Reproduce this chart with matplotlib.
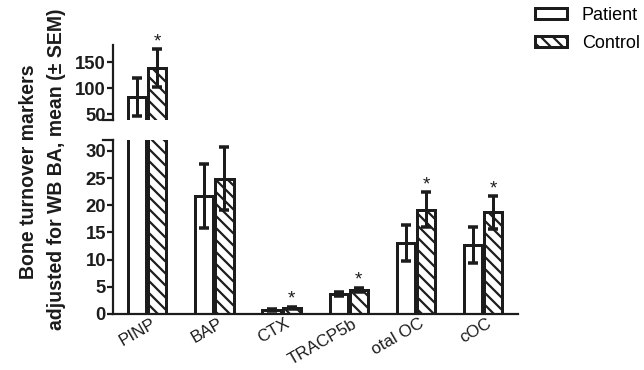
import matplotlib.pyplot as plt
from matplotlib.patches import Patch

# --- data ---
markers = ["PINP", "BAP", "CTX", "TRACP5b", "otal OC", "cOC"]
patient_mean = [83, 21.7, 0.7, 3.7, 13.1, 12.7]
patient_sem = [37, 5.9, 0.2, 0.3, 3.3, 3.3]
control_mean = [138, 24.9, 1.1, 4.4, 19.2, 18.7]
control_sem = [37, 5.8, 0.2, 0.4, 3.2, 3.0]
significant = [True, False, True, True, True, True]
upper_ticks = [50, 100, 150]
lower_ticks = [0, 5, 10, 15, 20, 25, 30]

plt.rcParams['font.family'] = ['Liberation Sans', 'DejaVu Sans']
plt.rcParams['hatch.linewidth'] = 2.2
INK = '#1c1c1c'

W, H = 644, 370
fig = plt.figure(figsize=(W / 72, H / 72), dpi=72)

# axes boxes in pixels (left, top, right, bottom)
def px_axes(l, t, r, b):
    return fig.add_axes([l / W, 1 - b / H, (r - l) / W, (b - t) / H])

ax_top = px_axes(113, 45, 518, 120)
ax_bot = px_axes(113, 140, 518, 314)

x = list(range(len(markers)))
bw = 0.27
off = 0.15
xp = [i - off for i in x]
xc = [i + off for i in x]

for ax in (ax_top, ax_bot):
    ax.bar(xp, patient_mean, width=bw, facecolor='white', edgecolor=INK, linewidth=3)
    ax.bar(xc, control_mean, width=bw, facecolor='white', edgecolor=INK, linewidth=3,
           hatch='\\\\')
    ax.errorbar(xp, patient_mean, yerr=patient_sem, fmt='none', ecolor=INK,
                elinewidth=3, capsize=5, capthick=3.5)
    ax.errorbar(xc, control_mean, yerr=control_sem, fmt='none', ecolor=INK,
                elinewidth=3, capsize=5, capthick=3.5)
    ax.set_xlim(-0.51, 5.52)
    for s in ('top', 'right'):
        ax.spines[s].set_visible(False)
    ax.spines['left'].set_linewidth(2.2)
    ax.spines['left'].set_color(INK)
    ax.tick_params(axis='y', length=6, width=2.2, color=INK, labelsize=18.5, pad=1)

ax_top.set_ylim(38.5, 182.7)
ax_top.set_yticks(upper_ticks)
ax_top.set_yticklabels([str(t) for t in upper_ticks], fontweight='bold', color=INK)
ax_top.spines['bottom'].set_visible(False)
ax_top.set_xticks([])

ax_bot.set_ylim(0, 32)
ax_bot.set_yticks(lower_ticks)
ax_bot.set_yticklabels([str(t) for t in lower_ticks], fontweight='bold', color=INK)
ax_bot.spines['bottom'].set_linewidth(2.2)
ax_bot.spines['bottom'].set_color(INK)
ax_bot.set_xticks([i + 0.05 for i in x])
ax_bot.set_xticklabels(markers, rotation=30, ha='right', va='top', rotation_mode='anchor',
                       fontsize=17, color=INK)
ax_bot.tick_params(axis='x', length=0, pad=2)

# break marks at the spine ends
ax_top.plot([-0.025, 0], [0, 0], transform=ax_top.transAxes, color=INK, lw=2.2, clip_on=False)
ax_bot.plot([-0.025, 0], [1, 1], transform=ax_bot.transAxes, color=INK, lw=2.2, clip_on=False)

# significance stars over control bars
for i, sig in enumerate(significant):
    if not sig:
        continue
    top = control_mean[i] + control_sem[i]
    ax = ax_top if control_mean[i] > 32 else ax_bot
    ax.annotate('*', (xc[i], top), xytext=(0, -1), textcoords='offset points',
                ha='center', va='bottom', fontsize=19, color=INK, annotation_clip=False)

fig.text(29 / W, 1 - 172 / H, 'Bone turnover markers', rotation=90, ha='center', va='center',
         fontsize=19.5, fontweight='bold', color=INK)
fig.text(57 / W, 1 - 169 / H, 'adjusted for WB BA, mean (\u00b1 SEM)', rotation=90,
         ha='center', va='center', fontsize=19.5, fontweight='bold', color=INK)

handles = [Patch(facecolor='white', edgecolor=INK, linewidth=3),
           Patch(facecolor='white', edgecolor=INK, linewidth=3, hatch='\\\\')]
fig.legend(handles, ['Patient', 'Control'], loc='upper left',
           bbox_to_anchor=(535 / W, 1 - 7 / H), frameon=False, fontsize=18,
           handlelength=1.8, handleheight=0.55, handletextpad=0.8, labelspacing=0.6,
           borderpad=0, borderaxespad=0)

fig.savefig('out.png', dpi=72)
